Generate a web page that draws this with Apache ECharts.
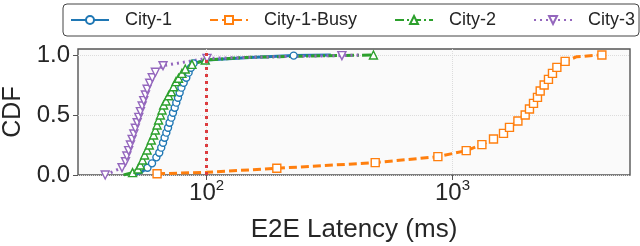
<!DOCTYPE html>
<html>
<head>
<meta charset="utf-8">
<script src="https://cdn.jsdelivr.net/npm/echarts@6/dist/echarts.min.js"></script>
<style>
  html, body { margin: 0; padding: 0; background: #fff; }
  #chart { width: 640px; height: 246px; }
</style>
</head>
<body>
<div id="chart"></div>
<script>
// 延迟 (ms) 与 CDF，mark = 1 表示画标记点
const city1Lat = [50, 54, 57.5, 60.0, 62.5, 64.2, 65.4, 66.5, 67.5, 68.6, 69.7, 70.7, 71.9, 73.0, 74.2, 75.3, 76.5, 77.7, 79.0, 80.7, 82.7, 84.5, 86.4, 88.5, 100, 150, 226, 320];
const city1Cdf = [0, 0.02, 0.061, 0.097, 0.147, 0.186, 0.228, 0.269, 0.311, 0.353, 0.394, 0.436, 0.478, 0.519, 0.561, 0.603, 0.644, 0.686, 0.728, 0.769, 0.811, 0.853, 0.894, 0.93, 0.958, 0.98, 0.995, 1.0];
const city1Mark = [0, 0, 1, 1, 1, 1, 1, 1, 1, 1, 1, 1, 1, 1, 1, 1, 1, 1, 1, 1, 1, 1, 1, 1, 0, 0, 1, 0];

const busyLat = [62.9, 100, 193, 485, 872, 1137, 1317, 1468, 1612, 1705, 1845, 1975, 2056, 2135, 2216, 2273, 2359, 2456, 2550, 2657, 2871, 3204, 4050];
const busyCdf = [0.01, 0.022, 0.056, 0.103, 0.153, 0.203, 0.253, 0.3, 0.347, 0.397, 0.45, 0.5, 0.55, 0.597, 0.647, 0.7, 0.75, 0.797, 0.847, 0.897, 0.947, 0.986, 1.0];
const busyMark = [1, 0, 1, 1, 1, 1, 1, 1, 1, 1, 1, 1, 1, 1, 1, 1, 1, 1, 1, 1, 1, 0, 1];

const city2Lat = [46, 50, 52.6, 53.8, 54.9, 56.0, 57.3, 58.5, 59.6, 60.9, 61.9, 62.9, 63.8, 64.9, 65.9, 66.9, 68.4, 70.1, 71.9, 73.4, 75.1, 76.9, 79.4, 81.9, 87.2, 98.8, 145, 240, 477];
const city2Cdf = [0, 0.02, 0.05, 0.083, 0.125, 0.167, 0.208, 0.25, 0.292, 0.333, 0.375, 0.417, 0.458, 0.5, 0.542, 0.583, 0.617, 0.661, 0.694, 0.736, 0.778, 0.806, 0.847, 0.883, 0.922, 0.958, 0.98, 0.99, 1.0];
const city2Mark = [0, 1, 1, 1, 1, 1, 1, 1, 1, 1, 1, 1, 1, 1, 1, 1, 1, 1, 1, 1, 1, 1, 1, 1, 1, 1, 0, 0, 1];

const city3Lat = [38.7, 45.3, 46.8, 47.4, 48.2, 49.0, 49.8, 50.6, 51.3, 52.2, 53.0, 53.8, 54.7, 55.5, 56.4, 57.3, 58.7, 60.1, 61.9, 66.5, 100.4, 199, 355, 428];
const city3Cdf = [0.0, 0.061, 0.111, 0.158, 0.203, 0.25, 0.297, 0.342, 0.389, 0.436, 0.48, 0.528, 0.575, 0.62, 0.667, 0.714, 0.764, 0.81, 0.856, 0.911, 0.972, 0.986, 0.995, 1.0];
const city3Mark = [1, 1, 1, 1, 1, 1, 1, 1, 1, 1, 1, 1, 1, 1, 1, 1, 1, 1, 1, 1, 1, 0, 1, 0];

const xTicks = [100, 1000];
const yTicks = [0, 0.5, 1.0];
const sloLatency = 100; // 红色虚线

const FONT = "'Liberation Sans', Arial, sans-serif";
const TEXT = '#262626';

function toData(lat, cdf, mark) {
  return lat.map((x, i) => mark[i] ? [x, cdf[i]] : { value: [x, cdf[i]], symbol: 'none' });
}

function makeSeries(name, color, dash, symbol, size, lat, cdf, mark, rotate) {
  return {
    name,
    type: 'line',
    data: toData(lat, cdf, mark),
    symbol,
    symbolSize: size,
    symbolRotate: rotate || 0,
    showAllSymbol: true,
    lineStyle: { color, width: 3, type: dash },
    itemStyle: { color: '#fff', borderColor: color, borderWidth: 1.4 },
    emphasis: { disabled: true },
    animation: false
  };
}

const chart = echarts.init(document.getElementById('chart'), null, { renderer: 'canvas' });

chart.setOption({
  animation: false,
  textStyle: { fontFamily: FONT },
  legend: {
    left: 63,
    top: 4,
    width: 620,
    padding: [7, 4, 7, 7],
    itemWidth: 38,
    itemHeight: 10,
    itemGap: 37,
    borderColor: '#444',
    borderWidth: 1,
    borderRadius: 4,
    textStyle: { fontSize: 18, color: TEXT, fontFamily: FONT, padding: [0, 0, 0, 11] },
    data: ['City-1', 'City-1-Busy', 'City-2', 'City-3']
  },
  grid: {
    left: 78,
    right: 10,
    top: 49,
    bottom: 71,
    outerBoundsMode: 'none',
    containLabel: false,
    show: true,
    backgroundColor: '#fafafa',
    borderColor: '#555',
    borderWidth: 1.4
  },
  xAxis: {
    type: 'log',
    logBase: 10,
    min: 30,
    max: 5270,
    name: 'E2E Latency (ms)',
    nameLocation: 'middle',
    nameGap: 42,
    nameTextStyle: { fontSize: 26, color: TEXT, fontFamily: FONT },
    axisLine: { show: false },
    axisTick: { show: true, length: 5, lineStyle: { color: '#555' }, customValues: xTicks },
    axisLabel: {
      customValues: xTicks,
      margin: 3,
      formatter: v => '{b|10}{s|' + Math.round(Math.log10(v)) + '}',
      rich: {
        b: { fontSize: 24, lineHeight: 27, verticalAlign: 'bottom', color: TEXT, fontFamily: FONT },
        s: { fontSize: 15, lineHeight: 15, verticalAlign: 'top', color: TEXT, fontFamily: FONT }
      }
    },
    minorTick: { show: false },
    splitLine: { show: true, lineStyle: { color: '#dcdcdc', type: 'dotted', width: 1 } }
  },
  yAxis: {
    type: 'value',
    min: 0,
    max: 1.05,
    interval: 0.5,
    name: 'CDF',
    nameLocation: 'middle',
    nameGap: 52,
    nameTextStyle: { fontSize: 25, color: TEXT, fontFamily: FONT },
    axisLine: { show: false },
    axisTick: { show: true, length: 5, lineStyle: { color: '#555' }, customValues: yTicks },
    axisLabel: {
      customValues: yTicks,
      fontSize: 24,
      color: TEXT,
      margin: 8,
      formatter: v => v.toFixed(1)
    },
    splitLine: { show: true, lineStyle: { color: '#dcdcdc', type: 'dotted', width: 1 } }
  },
  series: [
    makeSeries('City-1', '#1f77b4', 'solid', 'circle', 7, city1Lat, city1Cdf, city1Mark),
    makeSeries('City-1-Busy', '#ff7f0e', [8, 4], 'rect', 8, busyLat, busyCdf, busyMark),
    makeSeries('City-2', '#2ca02c', [9, 3, 2, 3], 'triangle', 8, city2Lat, city2Cdf, city2Mark),
    makeSeries('City-3', '#9467bd', [2, 4], 'triangle', 8, city3Lat, city3Cdf, city3Mark, 180),
    {
      name: 'SLO',
      type: 'line',
      data: [],
      z: 10,
      markLine: {
        silent: true,
        symbol: 'none',
        label: { show: false },
        lineStyle: { color: '#dc3c3f', type: [3, 4], width: 3 },
        data: [{ xAxis: sloLatency }]
      }
    }
  ]
});
</script>
</body>
</html>
